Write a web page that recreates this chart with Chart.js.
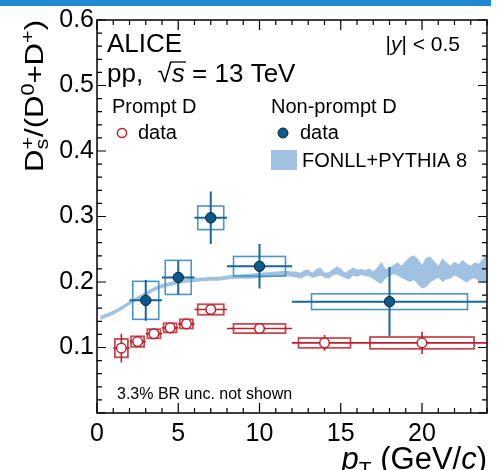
<!DOCTYPE html>
<html>
<head>
<meta charset="utf-8">
<script src="https://cdn.jsdelivr.net/npm/chart.js@4.4.0/dist/chart.umd.min.js"></script>
<style>
    html, body { margin: 0; padding: 0; background: #fff; }
    canvas { display: block; }
</style>
</head>
<body>
<canvas id="ratioChart" width="499" height="470" style="width:499px;height:470px"></canvas>
<script>
(function () {
    // prompt D: Ds+/(D0+D+) vs pT
    var promptPt = [1.5, 2.5, 3.5, 4.5, 5.5, 7, 10, 14, 20];
    var promptBinLo = [1, 2, 3, 4, 5, 6, 8, 12, 16];
    var promptBinHi = [2, 3, 4, 5, 6, 8, 12, 16, 24];
    var promptRatio = [0.099, 0.109, 0.121, 0.130, 0.136, 0.158, 0.129, 0.107, 0.107];
    var promptStat = [0.022, 0.006, 0.004, 0.004, 0.004, 0.004, 0.005, 0.012, 0.017];
    var promptSyst = [0.014, 0.008, 0.007, 0.007, 0.007, 0.008, 0.007, 0.0075, 0.009];

    // non-prompt D
    var nonPromptPt = [3, 5, 7, 10, 18];
    var nonPromptBinLo = [2, 4, 6, 8, 12];
    var nonPromptBinHi = [4, 6, 8, 12, 24];
    var nonPromptRatio = [0.172, 0.207, 0.298, 0.224, 0.170];
    var nonPromptStat = [0.031, 0.026, 0.040, 0.034, 0.053];
    var nonPromptSyst = [0.029, 0.026, 0.018, 0.015, 0.012];

    // FONLL+PYTHIA 8 band
    var bandPt = [0.2, 0.5, 1, 1.5, 2, 2.5, 3, 3.5, 4, 4.5, 5, 5.5, 6, 6.5, 7, 7.5, 8, 8.5, 9, 9.5, 10, 10.5, 11, 11.5, 12,
        12.25, 12.5, 12.75, 13, 13.25, 13.5, 13.75, 14, 14.25, 14.5, 14.75, 15, 15.25, 15.5, 15.75, 16, 16.25, 16.5, 16.75,
        17, 17.25, 17.5, 17.75, 18, 18.25, 18.5, 18.75, 19, 19.25, 19.5, 19.75, 20, 20.25, 20.5, 20.75, 21, 21.25, 21.5,
        21.75, 22, 22.25, 22.5, 22.75, 23, 23.25, 23.5, 23.75, 24];
    var bandLo = [0.142, 0.145, 0.150, 0.157, 0.165, 0.172, 0.179, 0.186, 0.191, 0.194, 0.197, 0.199, 0.200, 0.201, 0.202,
        0.202, 0.204, 0.205, 0.205, 0.205, 0.206, 0.207, 0.208, 0.209, 0.208,
        0.207, 0.205, 0.208, 0.210, 0.206, 0.208, 0.210, 0.207, 0.205, 0.210, 0.212, 0.209, 0.206, 0.204, 0.210, 0.208,
        0.211, 0.209, 0.208, 0.205, 0.200, 0.197, 0.205, 0.209, 0.212, 0.210, 0.206, 0.203, 0.200, 0.203, 0.196, 0.190,
        0.192, 0.199, 0.203, 0.207, 0.200, 0.204, 0.205, 0.210, 0.207, 0.203, 0.199, 0.204, 0.206, 0.201, 0.198, 0.200];
    var bandHi = [0.148, 0.151, 0.156, 0.163, 0.171, 0.178, 0.185, 0.192, 0.197, 0.200, 0.203, 0.205, 0.206, 0.207, 0.208,
        0.208, 0.210, 0.211, 0.212, 0.213, 0.214, 0.215, 0.216, 0.217, 0.216,
        0.216, 0.214, 0.218, 0.219, 0.214, 0.220, 0.222, 0.214, 0.215, 0.219, 0.224, 0.221, 0.214, 0.218, 0.222, 0.219,
        0.220, 0.218, 0.221, 0.216, 0.222, 0.231, 0.220, 0.222, 0.226, 0.230, 0.225, 0.232, 0.238, 0.241, 0.235, 0.226,
        0.237, 0.239, 0.232, 0.225, 0.236, 0.230, 0.225, 0.231, 0.227, 0.234, 0.228, 0.225, 0.230, 0.228, 0.236, 0.240];

    var xTickValues = [0, 5, 10, 15, 20];
    var yTickValues = [0.1, 0.2, 0.3, 0.4, 0.5, 0.6];

    var FONT = '"Liberation Sans", Arial, Helvetica, sans-serif';
    var RED = '#be1e2d';
    var RED_BOX = '#c94a4e';
    var BLUE = '#16679b';
    var BLUE_BOX = '#4b94c4';
    var BLUE_MARK = '#0a5a8b';
    var BAND = '#a0c1e2';

    var font = function (size, italic) {
        return (italic ? 'italic ' : '') + size + 'px ' + FONT;
    };

    // writes text pieces one after another, returns the width used
    var richText = function (ctx, x, y, parts, measureOnly) {
        var cx = x;
        parts.forEach(function (p) {
            if (p.stack) {
                var w = 0;
                p.stack.forEach(function (q) {
                    ctx.font = font(q.size, q.italic);
                    if (!measureOnly) ctx.fillText(q.t, cx, y + (q.dy || 0));
                    w = Math.max(w, ctx.measureText(q.t).width);
                });
                cx += w;
                return;
            }
            ctx.font = font(p.size, p.italic);
            if (!measureOnly) ctx.fillText(p.t, cx, y + (p.dy || 0));
            cx += ctx.measureText(p.t).width;
        });
        return cx - x;
    };

    var drawErrors = function (chart) {
        var ctx = chart.ctx, xs = chart.scales.x, ys = chart.scales.y, a = chart.chartArea;
        var X = function (v) { return xs.getPixelForValue(v); };
        var Y = function (v) { return ys.getPixelForValue(v); };

        ctx.save();
        ctx.beginPath();
        ctx.rect(a.left, a.top, a.right - a.left, a.bottom - a.top);
        ctx.clip();

        // systematic boxes
        ctx.lineWidth = 1.8;
        ctx.strokeStyle = RED_BOX;
        promptPt.forEach(function (x, i) {
            var hw = 0.4 * (promptBinHi[i] - promptBinLo[i]);
            var x0 = X(x - hw), x1 = X(x + hw);
            var y0 = Y(promptRatio[i] + promptSyst[i]), y1 = Y(promptRatio[i] - promptSyst[i]);
            ctx.strokeRect(x0, y0, x1 - x0, y1 - y0);
        });
        ctx.lineWidth = 1.6;
        ctx.strokeStyle = BLUE_BOX;
        nonPromptPt.forEach(function (x, i) {
            var hw = 0.4 * (nonPromptBinHi[i] - nonPromptBinLo[i]);
            var x0 = X(x - hw), x1 = X(x + hw);
            var y0 = Y(nonPromptRatio[i] + nonPromptSyst[i]), y1 = Y(nonPromptRatio[i] - nonPromptSyst[i]);
            ctx.strokeRect(x0, y0, x1 - x0, y1 - y0);
        });

        // statistical bars
        ctx.lineWidth = 1.6;
        ctx.strokeStyle = RED;
        promptPt.forEach(function (x, i) {
            ctx.beginPath();
            ctx.moveTo(X(promptBinLo[i]), Y(promptRatio[i]));
            ctx.lineTo(X(promptBinHi[i]), Y(promptRatio[i]));
            ctx.moveTo(X(x), Y(promptRatio[i] + promptStat[i]));
            ctx.lineTo(X(x), Y(promptRatio[i] - promptStat[i]));
            ctx.stroke();
        });
        ctx.lineWidth = 2;
        ctx.strokeStyle = BLUE;
        nonPromptPt.forEach(function (x, i) {
            ctx.beginPath();
            ctx.moveTo(X(nonPromptBinLo[i]), Y(nonPromptRatio[i]));
            ctx.lineTo(X(nonPromptBinHi[i]), Y(nonPromptRatio[i]));
            ctx.moveTo(X(x), Y(nonPromptRatio[i] + nonPromptStat[i]));
            ctx.lineTo(X(x), Y(nonPromptRatio[i] - nonPromptStat[i]));
            ctx.stroke();
        });
        ctx.restore();
    };

    var drawFrame = function (chart) {
        var ctx = chart.ctx, xs = chart.scales.x, ys = chart.scales.y, a = chart.chartArea;
        ctx.save();
        ctx.strokeStyle = '#000';
        ctx.lineWidth = 1.5;
        ctx.strokeRect(a.left, a.top, a.right - a.left, a.bottom - a.top);

        ctx.lineWidth = 1.2;
        ctx.beginPath();
        for (var k = 0; k <= 24; k++) {
            var px = xs.getPixelForValue(k);
            var len = k % 5 === 0 ? 10 : 5;
            ctx.moveTo(px, a.bottom); ctx.lineTo(px, a.bottom - len);
            ctx.moveTo(px, a.top); ctx.lineTo(px, a.top + len);
        }
        for (var j = 0; j <= 30; j++) {
            var py = ys.getPixelForValue(j * 0.02);
            var ylen = j % 5 === 0 ? 9 : 5;
            ctx.moveTo(a.left, py); ctx.lineTo(a.left + ylen, py);
            ctx.moveTo(a.right, py); ctx.lineTo(a.right - ylen, py);
        }
        ctx.stroke();
        ctx.restore();
    };

    var drawTexts = function (chart) {
        var ctx = chart.ctx;
        ctx.save();
        ctx.fillStyle = '#000';
        ctx.textBaseline = 'alphabetic';
        ctx.textAlign = 'left';

        // y axis title, rotated
        var yTitle = [
            { t: 'D', size: 26 },
            { stack: [{ t: '+', size: 18, dy: -9 }, { t: 's', size: 18, dy: 5 }] },
            { t: '/(D', size: 26 },
            { t: '0', size: 18, dy: -9 },
            { t: '+D', size: 26 },
            { t: '+', size: 18, dy: -9 },
            { t: ')', size: 26 }
        ];
        ctx.save();
        ctx.translate(43, 172);
        ctx.rotate(-Math.PI / 2);
        var tw = richText(ctx, 0, 0, yTitle, true);
        ctx.scale(152 / tw, 1);
        richText(ctx, 0, 0, yTitle);
        ctx.restore();

        // x axis title
        var xTitle = [
            { t: 'p', size: 31, italic: true },
            { t: 'T', size: 21, dy: 7 },
            { t: ' (GeV/', size: 31 },
            { t: 'c', size: 31, italic: true },
            { t: ')', size: 31 }
        ];
        var xw = richText(ctx, 0, 0, xTitle, true);
        richText(ctx, chart.chartArea.right - xw, 469, xTitle);

        ctx.font = font(26);
        ctx.fillText('ALICE', 107, 52);

        // pp, sqrt(s) = 13 TeV
        var x0 = 107;
        ctx.font = font(26);
        ctx.fillText('pp,  ', x0, 82);
        x0 += ctx.measureText('pp,  ').width;
        ctx.fillText('\u221A', x0, 82);
        x0 += ctx.measureText('\u221A').width;
        ctx.font = font(26, true);
        ctx.fillText('s', x0, 82);
        var sw = ctx.measureText('s').width;
        ctx.lineWidth = 1.3;
        ctx.beginPath();
        ctx.moveTo(x0 - 1, 62); ctx.lineTo(x0 + sw + 1, 62);
        ctx.stroke();
        x0 += sw;
        ctx.font = font(26);
        ctx.fillText(' = 13 TeV', x0, 82);

        var rap = [
            { t: '|', size: 21 },
            { t: 'y', size: 21, italic: true },
            { t: '| < 0.5', size: 21 }
        ];
        var rw = richText(ctx, 0, 0, rap, true);
        richText(ctx, 460 - rw, 51, rap);

        ctx.font = font(20);
        ctx.fillText('Prompt D', 112, 113);
        ctx.fillText('Non-prompt D', 271, 113);
        ctx.fillText('data', 138, 139);
        ctx.fillText('data', 300, 139);
        ctx.fillText('FONLL+PYTHIA 8', 302, 167);

        ctx.font = font(16);
        ctx.fillText('3.3% BR unc. not shown', 117, 399);

        // legend markers
        ctx.lineWidth = 1.5;
        ctx.strokeStyle = RED;
        ctx.fillStyle = '#fff';
        ctx.beginPath();
        ctx.arc(122, 133, 4.6, 0, Math.PI * 2);
        ctx.fill();
        ctx.stroke();

        ctx.lineWidth = 1;
        ctx.strokeStyle = '#0a2436';
        ctx.fillStyle = BLUE_MARK;
        ctx.beginPath();
        ctx.arc(283, 133, 5, 0, Math.PI * 2);
        ctx.fill();
        ctx.stroke();

        ctx.fillStyle = BAND;
        ctx.fillRect(271, 150, 26, 20);
        ctx.restore();
    };

    var rootStyle = {
        id: 'rootStyle',
        beforeDraw: function (chart) {
            var ctx = chart.ctx;
            ctx.save();
            ctx.fillStyle = '#fff';
            ctx.fillRect(0, 0, chart.width, chart.height);
            ctx.fillStyle = '#2188d2';
            ctx.fillRect(0, 0, 491, 6);
            ctx.restore();
        },
        afterDatasetDraw: function (chart, args) {
            if (args.index === 2) drawErrors(chart);
        },
        afterDraw: function (chart) {
            drawFrame(chart);
            drawTexts(chart);
        }
    };

    var toPoints = function (xs, ys) {
        return xs.map(function (x, i) { return { x: x, y: ys[i] }; });
    };

    new Chart(document.getElementById('ratioChart'), {
        type: 'line',
        data: {
            datasets: [
                {
                    label: 'Non-prompt D',
                    data: toPoints(nonPromptPt, nonPromptRatio),
                    showLine: false,
                    pointRadius: 5.2,
                    pointBackgroundColor: BLUE_MARK,
                    pointBorderColor: '#0a2436',
                    pointBorderWidth: 1
                },
                {
                    label: 'Prompt D',
                    data: toPoints(promptPt, promptRatio),
                    showLine: false,
                    pointRadius: 4.8,
                    pointBackgroundColor: '#fff',
                    pointBorderColor: RED,
                    pointBorderWidth: 1.5
                },
                {
                    label: 'FONLL low',
                    data: toPoints(bandPt, bandLo),
                    pointRadius: 0,
                    borderWidth: 0,
                    borderColor: 'rgba(0,0,0,0)',
                    tension: 0,
                    fill: false
                },
                {
                    label: 'FONLL+PYTHIA 8',
                    data: toPoints(bandPt, bandHi),
                    pointRadius: 0,
                    borderWidth: 0,
                    borderColor: 'rgba(0,0,0,0)',
                    backgroundColor: BAND,
                    tension: 0,
                    fill: '-1'
                }
            ]
        },
        options: {
            responsive: false,
            animation: false,
            events: [],
            layout: { padding: { top: 20, right: 12, left: 0, bottom: 0 } },
            plugins: {
                legend: { display: false },
                tooltip: { enabled: false }
            },
            scales: {
                x: {
                    type: 'linear',
                    min: 0,
                    max: 24,
                    afterBuildTicks: function (s) {
                        s.ticks = xTickValues.map(function (v) { return { value: v }; });
                    },
                    afterFit: function (s) { s.height = 57; },
                    grid: { display: false, drawTicks: false },
                    border: { display: false },
                    ticks: {
                        font: { family: FONT, size: 25 },
                        color: '#000',
                        padding: 6,
                        maxRotation: 0,
                        autoSkip: false,
                        callback: function (v) { return String(v); }
                    }
                },
                y: {
                    type: 'linear',
                    min: 0,
                    max: 0.6,
                    afterBuildTicks: function (s) {
                        s.ticks = yTickValues.map(function (v) { return { value: v }; });
                    },
                    afterFit: function (s) { s.width = 97; },
                    grid: { display: false, drawTicks: false },
                    border: { display: false },
                    ticks: {
                        font: { family: FONT, size: 25 },
                        color: '#000',
                        padding: 3,
                        autoSkip: false,
                        callback: function (v) { return v.toFixed(1); }
                    }
                }
            }
        },
        plugins: [rootStyle]
    });
})();
</script>
</body>
</html>
